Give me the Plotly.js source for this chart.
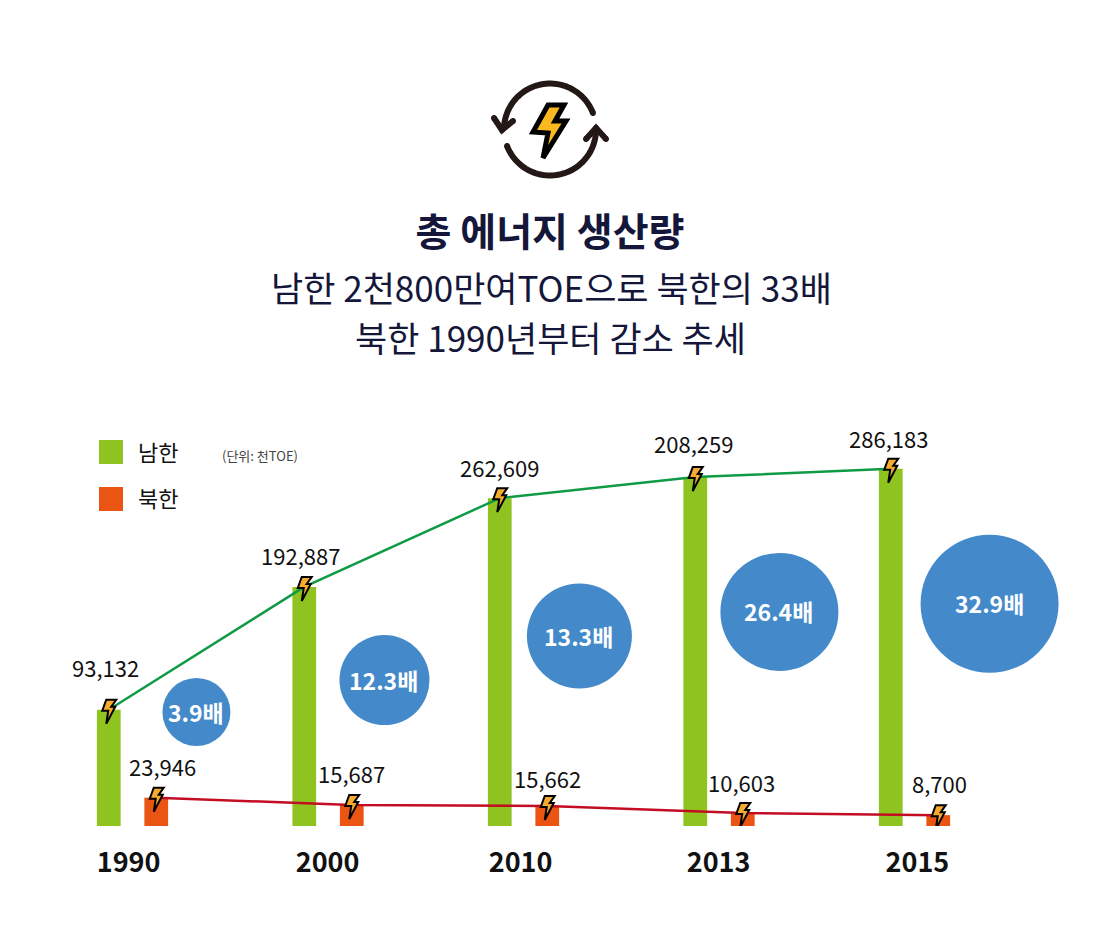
<!DOCTYPE html>
<html><head><meta charset="utf-8">
<script src="https://cdn.plot.ly/plotly-3.0.1.min.js"></script>
<style>html,body{margin:0;padding:0;background:#fff;overflow:hidden}</style>
</head><body><div id="chart" style="width:1100px;height:951px"></div>
<script>
// ---- data ----
const years = ['1990','2000','2010','2013','2015'];
const southLabels = ['93,132','192,887','262,609','208,259','286,183'];
const northLabels = ['23,946','15,687','15,662','10,603','8,700'];
// bar heights as drawn in the picture (the 2013 south bar is drawn taller than its label)
const southDrawn = [93132,191500,262609,279500,286183];
const northDrawn = [22700,16800,16000,10400,8700];
const ratioLabels = ['3.9배','12.3배','13.3배','26.4배','32.9배'];
const ratioX = [0.327,1.289,2.286,3.309,4.384];
const ratioY = [91300,116900,152200,171500,178000];
const ratioSize = [68,90,105,118,138];
const tickPositions = [-0.02,0.998,1.985,2.998,4.015];

// ---- geometry of the frame ----
const W=1100,H=951,B=826,X0=132.5,STEP=195.5,UNIT=801;
const idx = years.map((_,i)=>i);
const offset = 47.5/STEP/2;
const southX = idx.map(i=>i-offset), northX = idx.map(i=>i+offset);
const fx=p=>p/W, fy=p=>1-p/B;
const font='"Noto Sans CJK KR","Noto Sans",sans-serif';
const NAVY='#14163a';

const southLift=[43,32,31,34,31], southShift=[-3,-4,0,-2,-2];
const northLift=[32,32,28,31,32], northShift=[6,0,0,-1,1];
const ratioShiftX=[0,-1,-1,-1,0], ratioShiftY=[0,0,0,1,1];

const traces=[
 {type:'bar',name:'남한',x:idx,y:southDrawn,marker:{color:'#8fc31f'},showlegend:false,hoverinfo:'skip'},
 {type:'bar',name:'북한',x:idx,y:northDrawn,marker:{color:'#ea5514'},showlegend:false,hoverinfo:'skip'},
 {type:'scatter',mode:'lines',x:southX,y:southDrawn,line:{color:'#0f9a45',width:2.5},showlegend:false,hoverinfo:'skip'},
 {type:'scatter',mode:'lines',x:northX,y:northDrawn,line:{color:'#c30d23',width:2.5},showlegend:false,hoverinfo:'skip'},
 {type:'scatter',mode:'markers',x:ratioX,y:ratioY,
  marker:{size:ratioSize,color:'#448aca',opacity:1,line:{width:0}},showlegend:false,hoverinfo:'skip'}
];

function ann(text,px,py,size,opts){return Object.assign({text,x:fx(px),y:fy(py),xref:'paper',yref:'paper',showarrow:false,
  xanchor:'center',yanchor:'middle',font:{family:font,size,color:'#111'}},opts||{});}
const annotations=[
 ann('남한 2천800만여TOE으로 북한의 33배',551,287,35,{font:{family:font,size:35,color:NAVY}}),
 ann('북한 1990년부터 감소 추세',550,336,35,{font:{family:font,size:35,color:NAVY}}),
 ann('남한',136,451,22,{xanchor:'left'}),
 ann('북한',136,497,22,{xanchor:'left'}),
 ann('(단위: 천TOE)',220,455,13,{xanchor:'left',font:{family:font,size:13,color:'#444'}})
];
southLabels.forEach((t,i)=>annotations.push({text:t,x:southX[i],y:southDrawn[i],xref:'x',yref:'y',showarrow:false,
  xanchor:'center',yanchor:'middle',yshift:southLift[i],xshift:southShift[i],font:{family:font,size:22,color:'#111'}}));
northLabels.forEach((t,i)=>annotations.push({text:t,x:northX[i],y:northDrawn[i],xref:'x',yref:'y',showarrow:false,
  xanchor:'center',yanchor:'middle',yshift:northLift[i],xshift:northShift[i],font:{family:font,size:22,color:'#111'}}));
ratioLabels.forEach((t,i)=>annotations.push({text:t,x:ratioX[i],y:ratioY[i],xref:'x',yref:'y',showarrow:false,
  xanchor:'center',yanchor:'middle',yshift:ratioShiftY[i],xshift:ratioShiftX[i],font:{family:font,size:23,color:'#fff',weight:700}}));

// ---- decoration ----
const INK='#231815';
function poly(pts,close){return pts.map((p,i)=>(i?'L':'M')+fx(p[0]).toFixed(5)+','+fy(p[1]).toFixed(5)).join(' ')+(close?' Z':'');}
function arc(cx,cy,r,a0,a1){const pts=[];for(let k=0;k<=48;k++){const a=(a0+(a1-a0)*k/48)*Math.PI/180;pts.push([cx+r*Math.cos(a),cy-r*Math.sin(a)]);}return pts;}
function ps(path,color,width,fill){return {type:'path',xref:'paper',yref:'paper',path,line:{color,width},fillcolor:fill||'rgba(0,0,0,0)',layer:'above'};}
function dot(p,r){return ps(poly(arc(p[0],p[1],r,0,360),true),INK,0,INK);}
const topArc=arc(550,129.5,46,21,176), botArc=arc(550,129.5,46,201,362);
const shapes=[
 ps(poly(topArc),INK,6), ps(poly(botArc),INK,6),
 ps(poly([[494,118],[502,130],[513,121]]),INK,6),
 ps(poly([[586,139],[596,128],[606,139]]),INK,6),
 ...[topArc[0],botArc[0],[494,118],[513,121],[586,139],[606,139],[502,130],[596,128]].map(p=>dot(p,3)),
 ps(poly([[548,105],[564,105],[555,121],[566,121],[543,158],[548,133],[533,132]],true),'#000',5,'#fbb81f'),
 {type:'rect',xref:'paper',yref:'paper',x0:fx(99),x1:fx(123),y0:fy(464),y1:fy(440),fillcolor:'#8fc31f',line:{width:0}},
 {type:'rect',xref:'paper',yref:'paper',x0:fx(99),x1:fx(123),y0:fy(511),y1:fy(487),fillcolor:'#ea5514',line:{width:0}}
];
const bolt='M -2.5 10 L 7.5 10 L 2.5 3 L 6.5 3 L -2.5 -14 L -0.5 -1 L -6.5 -1 Z';
[[southX,southDrawn],[northX,northDrawn]].forEach(([xs,ys])=>xs.forEach((x,i)=>shapes.push({
  type:'path',xref:'x',yref:'y',xsizemode:'pixel',ysizemode:'pixel',xanchor:x,yanchor:ys[i],path:bolt,
  fillcolor:'#f6ab2e',line:{color:'#000',width:2},layer:'above'})));

const layout={
 width:W,height:H,margin:{l:0,r:0,t:0,b:H-B,pad:0},paper_bgcolor:'#fff',plot_bgcolor:'#fff',
 barmode:'group',bargap:1-95/STEP,bargroupgap:0.5,hovermode:false,showlegend:false,
 title:{text:'<b>총 에너지 생산량</b>',x:0.5,xref:'paper',xanchor:'center',y:1-232/H,yref:'container',yanchor:'middle',
  font:{family:font,size:39,color:NAVY}},
 xaxis:{range:[-X0/STEP,(W-X0)/STEP],tickmode:'array',tickvals:tickPositions,ticktext:years,showgrid:false,zeroline:false,
  showline:false,ticks:'',ticklabelstandoff:18,tickfont:{family:font,size:27,color:'#111',weight:700},fixedrange:true},
 yaxis:{range:[0,B*UNIT],visible:false,fixedrange:true},
 annotations,shapes
};
Plotly.newPlot('chart',traces,layout,{displayModeBar:false,staticPlot:true});
</script></body></html>
